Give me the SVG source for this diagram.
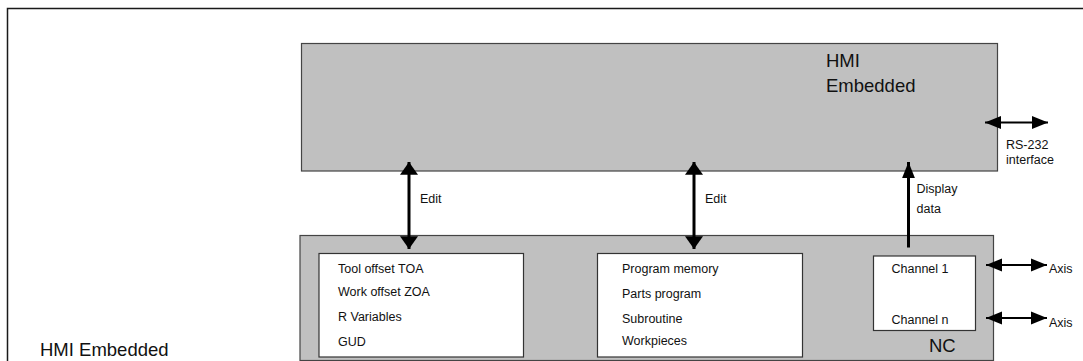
<svg xmlns="http://www.w3.org/2000/svg" width="1083" height="361" viewBox="0 0 1083 361">
<style>
text{font-family:"Liberation Sans",Arial,sans-serif;fill:#111}
.s{font-size:12.5px}
.b{font-size:18.5px}
.gray{fill:#c0c0c0;stroke:#444;stroke-width:1.2}
.white{fill:#fff;stroke:#333;stroke-width:1.2}
.thick{stroke:#000;stroke-width:3;fill:none}
.thin{stroke:#000;stroke-width:2;fill:none}
</style>
<defs>
<marker id="hb" markerUnits="userSpaceOnUse" markerWidth="18" markerHeight="18" refX="12" refY="8.5" orient="auto-start-reverse" viewBox="0 0 12 17">
<path d="M0,0 L12,8.5 L0,17 Z" fill="#000"/>
</marker>
<marker id="hs" markerUnits="userSpaceOnUse" markerWidth="16" markerHeight="14" refX="15" refY="6" orient="auto-start-reverse" viewBox="0 0 15 12">
<path d="M0,0 L15,6 L0,12 Z" fill="#000"/>
</marker>
</defs>
<rect x="0" y="0" width="1083" height="361" fill="#fff"/>
<path d="M7.5,361 L7.5,8.5 L1083,8.5" fill="none" stroke="#1a1a1a" stroke-width="1.5"/>
<text class="b" x="40" y="356">HMI Embedded</text>
<g id="hmi">
<rect class="gray" x="301.5" y="43.5" width="696" height="127.5"/>
<text class="b" x="826" y="67">HMI</text>
<text class="b" x="826" y="91.5">Embedded</text>
</g>
<g id="nc">
<rect class="gray" x="300" y="235.5" width="693.5" height="125"/>
<text class="b" x="929" y="352">NC</text>
</g>
<g id="data">
<rect class="white" x="319" y="253.5" width="204.5" height="103.5"/>
<text class="s" x="338" y="273">Tool offset TOA</text>
<text class="s" x="338" y="296">Work offset ZOA</text>
<text class="s" x="338" y="320.5">R Variables</text>
<text class="s" x="338" y="345.5">GUD</text>
</g>
<g id="program">
<rect class="white" x="597.5" y="253.5" width="205" height="103.5"/>
<text class="s" x="622" y="273">Program memory</text>
<text class="s" x="622" y="298">Parts program</text>
<text class="s" x="622" y="322.5">Subroutine</text>
<text class="s" x="622" y="345">Workpieces</text>
</g>
<g id="channels">
<rect class="white" x="873.5" y="256" width="102" height="74.5"/>
<text class="s" x="891.5" y="273">Channel 1</text>
<text class="s" x="891.5" y="324">Channel n</text>
</g>
<g id="connectors">
<line class="thick" x1="409" y1="162" x2="409" y2="249" marker-start="url(#hb)" marker-end="url(#hb)"/>
<line class="thick" x1="694" y1="162" x2="694" y2="249" marker-start="url(#hb)" marker-end="url(#hb)"/>
<line class="thick" x1="908.5" y1="247.5" x2="908.5" y2="162" marker-end="url(#hs)"/>
<line class="thin" x1="985" y1="122.5" x2="1048" y2="122.5" marker-start="url(#hs)" marker-end="url(#hs)"/>
<line class="thin" x1="986" y1="265" x2="1047" y2="265" marker-start="url(#hs)" marker-end="url(#hs)"/>
<line class="thin" x1="986" y1="318" x2="1047" y2="318" marker-start="url(#hs)" marker-end="url(#hs)"/>
</g>
<g id="labels">
<text class="s" x="420" y="203">Edit</text>
<text class="s" x="705" y="203">Edit</text>
<text class="s" x="916.5" y="193">Display</text>
<text class="s" x="916.5" y="213">data</text>
<text class="s" x="1006" y="149">RS-232</text>
<text class="s" x="1006" y="164">interface</text>
<text class="s" x="1049" y="273">Axis</text>
<text class="s" x="1049" y="326.5">Axis</text>
</g>
</svg>
